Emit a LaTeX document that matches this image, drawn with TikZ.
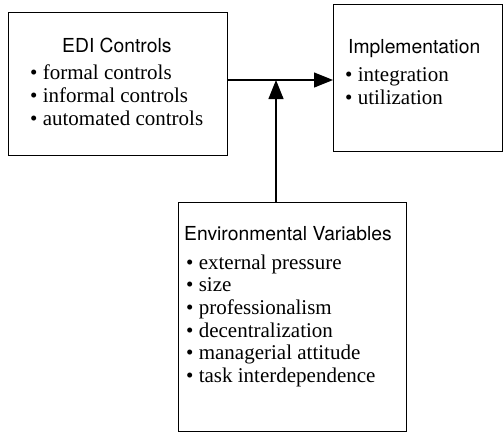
\documentclass[tikz,border=0pt]{standalone}
\usepackage{fontspec}
\setmainfont{Liberation Serif}
\newfontfamily\titlefont{TeX Gyre Heros}
\usetikzlibrary{arrows.meta}
\tikzset{
  box/.style={draw, line width=1pt, rectangle, inner sep=0pt, anchor=north west},
  ttl/.style={anchor=base west, inner sep=0pt, font=\titlefont\fontsize{19.3}{21}\selectfont},
  itm/.style={anchor=base west, inner sep=0pt, font=\fontsize{21}{22}\selectfont},
  conn/.style={line width=1.2pt},
  tip/.style={-{Triangle[length=19pt,width=15pt]}}
}
\begin{document}
\begin{tikzpicture}[x=1pt,y=-1pt]
\useasboundingbox (0,0) rectangle (504,432);
% boxes
\node[box, minimum width=219pt, minimum height=143pt] (edi) at (8,12) {};
\node[box, minimum width=169pt, minimum height=147pt] (impl) at (333,4) {};
\node[box, minimum width=228pt, minimum height=229pt] (env) at (178,202) {};
% EDI texts
\node[ttl] (t1) at (62,52) {EDI Controls};
\node[itm] (a1) at (30,79) {\textbullet\ formal controls};
\node[itm] (a2) at (30,102) {\textbullet\ informal controls};
\node[itm] (a3) at (30,125) {\textbullet\ automated controls};
% Implementation texts
\node[ttl] (t2) at (348,53) {Implementation};
\node[itm] (b1) at (345,81) {\textbullet\ integration};
\node[itm] (b2) at (345,104) {\textbullet\ utilization};
% Environmental texts
\node[ttl] (t3) at (184,240) {Environmental Variables};
\node[itm] (c1) at (186,269) {\textbullet\ external pressure};
\node[itm] (c2) at (186,291) {\textbullet\ size};
\node[itm] (c3) at (186,314) {\textbullet\ professionalism};
\node[itm] (c4) at (186,337) {\textbullet\ decentralization};
\node[itm] (c5) at (186,359) {\textbullet\ managerial attitude};
\node[itm] (c6) at (186,382) {\textbullet\ task interdependence};
% connectors
\coordinate (j) at (276,80);
\draw[conn, tip] (edi.east |- j) -- (impl.west |- j);
\draw[conn, tip] (env.north -| j) -- (j);
\end{tikzpicture}
\end{document}
